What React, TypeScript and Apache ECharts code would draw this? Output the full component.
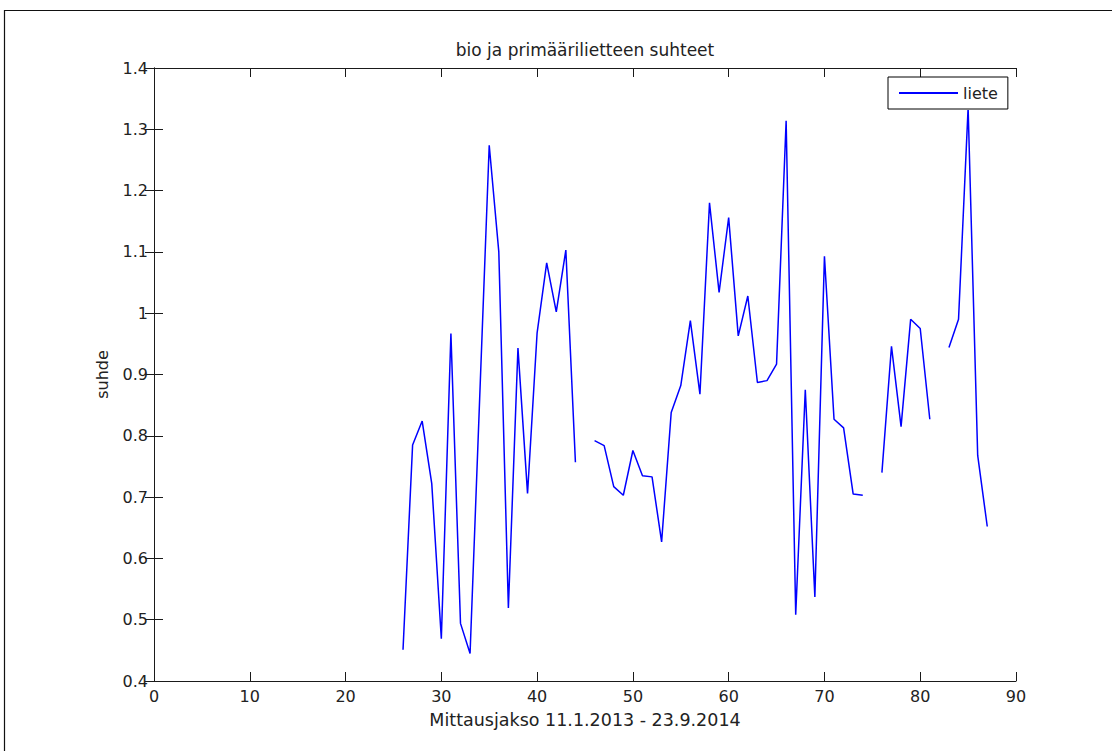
import React, { useEffect, useRef } from "react";
import * as echarts from "echarts";

const periods = [
  26, 27, 28, 29, 30, 31, 32, 33, 34, 35, 36, 37, 38, 39, 40, 41, 42, 43, 44,
  45, 46, 47, 48, 49, 50, 51, 52, 53, 54, 55, 56, 57, 58, 59, 60, 61, 62, 63,
  64, 65, 66, 67, 68, 69, 70, 71, 72, 73, 74, 75, 76, 77, 78, 79, 80, 81, 82,
  83, 84, 85, 86, 87,
];

const ratios: (number | null)[] = [
  0.451, 0.785, 0.824, 0.722, 0.469, 0.967, 0.494, 0.445, 0.86, 1.274, 1.1,
  0.519, 0.943, 0.706, 0.968, 1.082, 1.002, 1.103, 0.757,
  null,
  0.792, 0.784, 0.717, 0.703, 0.776, 0.735, 0.733, 0.627, 0.838, 0.882, 0.988,
  0.868, 1.18, 1.034, 1.156, 0.963, 1.028, 0.887, 0.89, 0.917, 1.314, 0.508,
  0.875, 0.537, 1.093, 0.827, 0.813, 0.705, 0.703,
  null,
  0.74, 0.946, 0.815, 0.99, 0.975, 0.827,
  null,
  0.944, 0.99, 1.335, 0.768, 0.652,
];

const xTicks = [0, 10, 20, 30, 40, 50, 60, 70, 80, 90];
const yTicks = [0.4, 0.5, 0.6, 0.7, 0.8, 0.9, 1.0, 1.1, 1.2, 1.3, 1.4];

const titleText = "bio ja primäärilietteen suhteet";
const xName = "Mittausjakso 11.1.2013 - 23.9.2014";
const yName = "suhde";
const seriesName = "liete";

const FONT = "DejaVu Sans";
const TXT = "#222";
const AX = "#1a1a1a";

export default function App() {
  const ref = useRef<HTMLDivElement>(null);

  useEffect(() => {
    if (!ref.current) return;
    const chart = echarts.init(ref.current, undefined, { renderer: "svg" });
    const data = periods.map((p, i) => [p, ratios[i] === null ? "-" : ratios[i]]);

    const axisCommon = {
      axisLine: { show: true, lineStyle: { color: AX, width: 1 } },
      axisTick: { show: true, inside: true, length: 9, lineStyle: { color: AX, width: 1 } },
      splitLine: { show: false },
    };

    chart.setOption({
      animation: false,
      backgroundColor: "#fff",
      title: {
        text: titleText,
        left: 580,
        top: 36,
        textAlign: "center",
        textStyle: { fontFamily: FONT, fontSize: 17, fontWeight: "normal", color: TXT },
      },
      legend: {
        data: [{ name: seriesName, icon: "rect" }],
        left: 888,
        top: 77,
        orient: "horizontal",
        itemWidth: 59,
        itemHeight: 2,
        padding: [8, 10, 8, 11],
        backgroundColor: "#fff",
        borderColor: "#000",
        borderWidth: 1,
        borderRadius: 0,
        selectedMode: false,
        textStyle: { fontFamily: FONT, fontSize: 16, color: TXT },
        z: 20,
      },
      grid: { left: 154, right: 96, top: 68, bottom: 70, containLabel: false },
      xAxis: [
        {
          type: "value",
          min: xTicks[0],
          max: xTicks[xTicks.length - 1],
          interval: 10,
          position: "bottom",
          ...axisCommon,
          axisLabel: { fontFamily: FONT, fontSize: 16, color: TXT, margin: 7 },
          name: xName,
          nameLocation: "middle",
          nameGap: 30,
          nameTextStyle: { fontFamily: FONT, fontSize: 17.5, color: TXT },
        },
        {
          type: "value",
          min: xTicks[0],
          max: xTicks[xTicks.length - 1],
          interval: 10,
          position: "top",
          ...axisCommon,
          axisLabel: { show: false },
        },
      ],
      yAxis: [
        {
          type: "value",
          min: yTicks[0],
          max: yTicks[yTicks.length - 1],
          interval: 0.1,
          position: "left",
          ...axisCommon,
          axisLabel: {
            fontFamily: FONT,
            fontSize: 16,
            color: TXT,
            margin: 6,
            formatter: (v: number) => String(Math.round(v * 10) / 10),
          },
          name: yName,
          nameLocation: "middle",
          nameGap: 44,
          nameRotate: 90,
          nameTextStyle: { fontFamily: FONT, fontSize: 16, color: TXT },
        },
        {
          type: "value",
          min: yTicks[0],
          max: yTicks[yTicks.length - 1],
          interval: 0.1,
          position: "right",
          ...axisCommon,
          axisLabel: { show: false },
        },
      ],
      series: [
        {
          name: seriesName,
          type: "line",
          xAxisIndex: 0,
          yAxisIndex: 0,
          data,
          showSymbol: false,
          symbol: "none",
          connectNulls: false,
          lineStyle: { color: "#0000ff", width: 1.5 },
          itemStyle: { color: "#0000ff" },
          z: 2,
        },
      ],
      graphic: [
        {
          type: "polyline",
          shape: { points: [[4.5, 760], [4.5, 10.5], [1120, 10.5]] },
          style: { stroke: "#111", lineWidth: 1.2, fill: null },
          silent: true,
        },
        {
          type: "rect",
          shape: { x: 889, y: 78, width: 118, height: 32 },
          style: { fill: "#fff" },
          silent: true,
          z: 15,
        },
      ],
    });

    return () => chart.dispose();
  }, []);

  return (
    <div
      ref={ref}
      style={{ position: "fixed", left: 0, top: 0, width: 1112, height: 751 }}
    />
  );
}
